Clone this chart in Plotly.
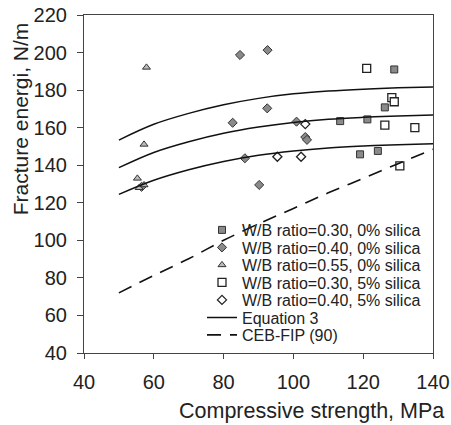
import plotly.graph_objects as go

# Data
sq_x = [128.9, 126.2, 113.4, 121.2, 119.1, 124.2]
sq_y = [191.0, 170.8, 163.5, 164.4, 145.8, 147.6]

dia_x = [84.7, 92.6, 92.5, 82.6, 100.9, 103.4, 103.9, 86.1, 90.2, 56.5]
dia_y = [198.7, 201.3, 170.3, 162.6, 163.2, 155.0, 153.5, 143.7, 129.5, 128.5]

tri_x = [57.9, 57.2, 55.3, 55.8, 57.2]
tri_y = [192.1, 151.1, 133.0, 128.0, 129.5]

osq_x = [121.0, 128.2, 128.9, 126.2, 134.8, 130.5]
osq_y = [191.6, 176.0, 173.8, 161.4, 160.0, 139.6]

odia_x = [103.4, 95.4, 102.2]
odia_y = [161.9, 144.5, 144.5]

curve_x = [50, 60, 70, 80, 90, 100, 110, 120, 130, 140]
eq_mid = [138.7, 146.8, 152.5, 157.0, 160.3, 162.8, 164.5, 165.5, 166.2, 166.7]
eq_up = [153.4, 161.8, 167.6, 172.2, 175.6, 178.0, 179.5, 180.5, 181.2, 181.7]
eq_low = [124.5, 132.0, 137.6, 142.0, 145.3, 147.6, 149.2, 150.2, 150.9, 151.4]

ceb_x = [50, 60, 70, 80, 90, 100, 110, 120, 130, 140]
ceb_y = [72.0, 81.3, 90.2, 100.0, 108.8, 117.0, 125.3, 133.0, 140.8, 148.5]

x_ticks = [40, 60, 80, 100, 120, 140]
y_ticks = [40, 60, 80, 100, 120, 140, 160, 180, 200, 220]

FONT = "Liberation Sans, Arial, sans-serif"
LEG_FONT = dict(size=16, family=FONT, color="#222")
fig = go.Figure()

fig.add_trace(go.Scatter(x=sq_x, y=sq_y, mode="markers", name="W/B ratio=0.30, 0% silica",
                         legend="legend",
                         marker=dict(symbol="square", size=7, color="#8a8a8a",
                                     line=dict(color="#333", width=1))))
fig.add_trace(go.Scatter(x=dia_x, y=dia_y, mode="markers", name="W/B ratio=0.40, 0% silica",
                         legend="legend2",
                         marker=dict(symbol="diamond", size=7, color="#8a8a8a",
                                     line=dict(color="#333", width=1))))
fig.add_trace(go.Scatter(x=tri_x, y=tri_y, mode="markers", name="W/B ratio=0.55, 0% silica",
                         legend="legend3",
                         marker=dict(symbol="triangle-up", size=7, color="#bbbbbb",
                                     line=dict(color="#333", width=1))))
fig.add_trace(go.Scatter(x=osq_x, y=osq_y, mode="markers", name="W/B ratio=0.30, 5% silica",
                         legend="legend4",
                         marker=dict(symbol="square", size=8, color="white",
                                     line=dict(color="#222", width=1.3))))
fig.add_trace(go.Scatter(x=odia_x, y=odia_y, mode="markers", name="W/B ratio=0.40, 5% silica",
                         legend="legend5",
                         marker=dict(symbol="diamond", size=7, color="white",
                                     line=dict(color="#222", width=1.3))))

for i, cy in enumerate([eq_mid, eq_up, eq_low]):
    fig.add_trace(go.Scatter(x=curve_x, y=cy, mode="lines", name="Equation 3",
                             legend="legend6",
                             showlegend=(i == 0), line=dict(color="#111", width=1.5, shape="spline")))

fig.add_trace(go.Scatter(x=ceb_x, y=ceb_y, mode="lines", name="CEB-FIP (90)",
                         legend="legend7",
                         line=dict(color="#111", width=1.6, dash="14px,9px", shape="spline")))

# Plot area: x 84..433 px, y 15..353 px
leg_centers_px = [230, 247.5, 265, 282.5, 300, 317.5, 335]
leg_x = (202 - 84) / 349
legends = {}
for i, py in enumerate(leg_centers_px):
    key = "legend" if i == 0 else f"legend{i + 1}"
    legends[key] = dict(x=leg_x, y=(353 - py) / 338, xanchor="left", yanchor="middle",
                        bgcolor="rgba(0,0,0,0)", font=LEG_FONT, itemwidth=30,
                        borderwidth=0)

fig.update_layout(
    width=451, height=425,
    margin=dict(l=84, r=18, t=15, b=72, autoexpand=False),
    paper_bgcolor="white", plot_bgcolor="white",
    font=dict(family=FONT, color="#222", size=20),
    showlegend=True,
    **legends,
    xaxis=dict(range=[40, 140], tickvals=x_ticks, ticks="outside", ticklen=5,
               showline=True, linecolor="#444", linewidth=1.2, mirror=True,
               showgrid=False, zeroline=False, ticklabelstandoff=6,
               tickfont=dict(size=20)),
    yaxis=dict(range=[40, 220], tickvals=y_ticks, ticks="outside", ticklen=6,
               showline=True, linecolor="#444", linewidth=1.2, mirror=True,
               showgrid=False, zeroline=False, ticklabelstandoff=6,
               tickfont=dict(size=20)),
    annotations=[
        dict(text="Compressive strength, MPa", xref="paper", yref="paper",
             x=0.653, y=-0.172, xanchor="center", yanchor="middle", showarrow=False,
             font=dict(size=21.5, family=FONT)),
        dict(text="Fracture energi, N/m", xref="paper", yref="paper",
             x=-0.183, y=0.692, xanchor="center", yanchor="middle", showarrow=False,
             textangle=-90, font=dict(size=21, family=FONT)),
    ],
)

fig.write_html("out.html", config={"displayModeBar": False},
               post_script="document.body.style.margin='0';document.body.style.overflow='hidden';")
